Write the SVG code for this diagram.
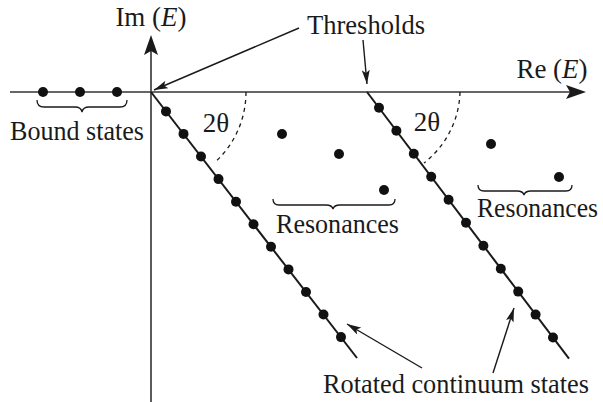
<svg xmlns="http://www.w3.org/2000/svg" width="603" height="402" viewBox="0 0 603 402">
<style>
text{font-family:'Liberation Serif','DejaVu Serif',serif;font-size:27px;fill:#1a1a1a}
.ax{stroke:#333;stroke-width:1.6;fill:none}
.cont{stroke:#1a1a1a;stroke-width:2;fill:none}
.dot{fill:#111}
.arr{stroke:#1a1a1a;stroke-width:1.4;fill:none;marker-end:url(#ah)}
.dash{stroke:#1a1a1a;stroke-width:1.3;fill:none;stroke-dasharray:4 4}
.brace{stroke:#1a1a1a;stroke-width:1.3;fill:none}
</style>
<defs>
<marker id="ah" viewBox="0 0 14 8" refX="14" refY="4" markerWidth="14" markerHeight="8" markerUnits="userSpaceOnUse" orient="auto">
<path d="M0,0 L14,4 L0,8 L3,4 Z" fill="#1a1a1a"/>
</marker>
</defs>
<g id="axes">
<line class="ax" x1="10" y1="92" x2="572" y2="92"/>
<path d="M586,92 L566,85 L570,92 L566,99 Z" fill="#1a1a1a"/>
<line class="ax" x1="151" y1="402" x2="151" y2="50"/>
<path d="M151,35 L144,55 L151,51 L158,55 Z" fill="#1a1a1a"/>
<text id="im-label" x="151" y="26" text-anchor="middle">Im (<tspan font-style="italic">E</tspan>)</text>
<text id="re-label" x="552" y="78" text-anchor="middle">Re (<tspan font-style="italic">E</tspan>)</text>
</g>
<g id="bound-states">
<circle class="dot" cx="43" cy="92" r="5"/>
<circle class="dot" cx="80" cy="92" r="5"/>
<circle class="dot" cx="117" cy="92" r="5"/>
<path class="brace" d="M37,100 q0,7 7,7 h31 q6,0 7,5 q1,-5 7,-5 h31 q7,0 7,-7"/>
<text x="10" y="140" textLength="134" lengthAdjust="spacingAndGlyphs">Bound states</text>
</g>
<g id="continuum-1">
<line class="cont" x1="151" y1="92" x2="357" y2="358"/>
<circle class="dot" cx="166" cy="111.4" r="5"/>
<circle class="dot" cx="183.5" cy="133.9" r="5"/>
<circle class="dot" cx="201" cy="156.5" r="5"/>
<circle class="dot" cx="218.5" cy="179.1" r="5"/>
<circle class="dot" cx="236" cy="201.7" r="5"/>
<circle class="dot" cx="253.5" cy="224.2" r="5"/>
<circle class="dot" cx="271" cy="246.8" r="5"/>
<circle class="dot" cx="288.5" cy="269.4" r="5"/>
<circle class="dot" cx="306" cy="292" r="5"/>
<circle class="dot" cx="323.5" cy="314.5" r="5"/>
<circle class="dot" cx="341" cy="337.1" r="5"/>
<path class="dash" d="M246,92 A95,95 0 0 1 214.6,162.6"/>
<text x="216" y="132" text-anchor="middle">2θ</text>
</g>
<g id="continuum-2">
<line class="cont" x1="367" y1="92" x2="569" y2="358.6"/>
<circle class="dot" cx="379" cy="107.8" r="5"/>
<circle class="dot" cx="396.4" cy="130.8" r="5"/>
<circle class="dot" cx="413.8" cy="153.8" r="5"/>
<circle class="dot" cx="431.2" cy="176.7" r="5"/>
<circle class="dot" cx="448.6" cy="199.7" r="5"/>
<circle class="dot" cx="466" cy="222.7" r="5"/>
<circle class="dot" cx="483.4" cy="245.7" r="5"/>
<circle class="dot" cx="500.8" cy="268.7" r="5"/>
<circle class="dot" cx="518.2" cy="291.6" r="5"/>
<circle class="dot" cx="535.6" cy="314.6" r="5"/>
<circle class="dot" cx="553" cy="337.5" r="5"/>
<path class="dash" d="M460,92 A93,93 0 0 1 424,163"/>
<text x="427" y="131" text-anchor="middle">2θ</text>
</g>
<g id="resonances-1">
<circle class="dot" cx="282" cy="134" r="5"/>
<circle class="dot" cx="339" cy="154" r="5"/>
<circle class="dot" cx="384" cy="190" r="5"/>
<path class="brace" d="M273,199 q0,6 6,6 h47 q6,0 7,4 q1,-4 7,-4 h49 q6,0 6,-6"/>
<text x="276" y="233" textLength="123" lengthAdjust="spacingAndGlyphs">Resonances</text>
</g>
<g id="resonances-2">
<circle class="dot" cx="491" cy="144" r="5"/>
<circle class="dot" cx="559" cy="177" r="5"/>
<path class="brace" d="M478,185 q0,6 6,6 h33 q6,0 7,4 q1,-4 7,-4 h35 q6,0 6,-6"/>
<text x="477" y="217" textLength="121" lengthAdjust="spacingAndGlyphs">Resonances</text>
</g>
<g id="labels">
<text x="307" y="34" textLength="118" lengthAdjust="spacingAndGlyphs">Thresholds</text>
<text x="323" y="393" textLength="266" lengthAdjust="spacingAndGlyphs">Rotated continuum states</text>
</g>
<g id="connectors">
<line class="arr" x1="299" y1="28" x2="154" y2="90"/>
<line class="arr" x1="363" y1="40" x2="367" y2="84"/>
<line class="arr" x1="422" y1="368" x2="347" y2="324"/>
<line class="arr" x1="493" y1="373" x2="514" y2="308"/>
</g>
</svg>
